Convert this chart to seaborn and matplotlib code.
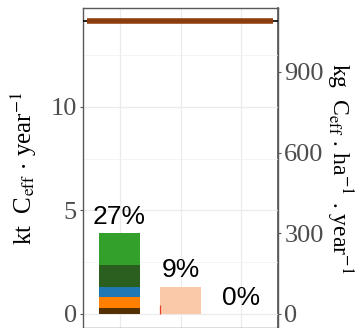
import matplotlib
matplotlib.use("Agg")
import matplotlib.pyplot as plt
import seaborn as sns
import numpy as np
import pandas as pd

# ---- data -------------------------------------------------------------
categories = ["A", "B", "C"]
segment_colors = ["#543005", "#FF7F00", "#1F78B4", "#2A5F1F", "#33A02C", "#F9C9A9"]
seg_dark_brown = [0.29, 0.0, 0.0]
seg_orange = [0.55, 0.0, 0.0]
seg_blue = [0.48, 0.0, 0.0]
seg_dark_green = [1.06, 0.0, 0.0]
seg_green = [1.53, 0.0, 0.0]
seg_peach = [0.0, 1.32, 0.0]
red_sliver = [0.0, 0.45, 0.0]
pct_labels = ["27%", "9%", "0%"]
reference_level = 14.15          # kt C_eff / year
kg_per_kt = 77.0                 # secondary axis conversion
left_ticks = [0, 5, 10]
right_ticks = [0, 300, 600, 900]

segments = [seg_dark_brown, seg_orange, seg_blue, seg_dark_green, seg_green, seg_peach]

# ---- style ------------------------------------------------------------
sns.set_theme(style="white")
plt.rcParams["font.family"] = ["Liberation Serif", "DejaVu Serif"]
plt.rcParams["mathtext.fontset"] = "stix"

fig = plt.figure(figsize=(3.58, 3.28), dpi=100)
ax = fig.add_axes([83 / 358, 0.0, 195 / 358, 1 - 8 / 328])

# cumulative tops, drawn from the tallest layer down so each stays visible
stack = np.cumsum(np.array(segments), axis=0)
bar_w = 0.68
for i in range(len(segments) - 1, -1, -1):
    df = pd.DataFrame({"cat": categories, "top": stack[i]})
    sns.barplot(data=df, x="cat", y="top", color=segment_colors[i],
                saturation=1, width=bar_w, linewidth=0, ax=ax, zorder=3)

totals = stack[-1]
xpos = np.arange(len(categories))

# thin red sliver at the left edge of the second bar
for x, h in zip(xpos, red_sliver):
    if h > 0:
        ax.vlines(x - bar_w / 2 + 0.01, 0, h, color="#E8402A", lw=0.9, zorder=4)

# reference level
ax.axhline(reference_level, color="black", lw=1.2, zorder=4)
ax.hlines(reference_level, -0.53, 2.52, color="#8B3D0E", lw=4.0, zorder=5)

# percentage labels
for x, t, lab in zip(xpos, totals, pct_labels):
    ax.text(x, t + 0.45, lab, ha="center", va="baseline", fontsize=19,
            family=["Liberation Sans", "DejaVu Sans"], color="black", zorder=6)

# axes
ax.set_xlim(-0.6, 2.6)
ax.set_ylim(-0.68, 14.78)
ax.set_yticks(left_ticks)
ax.set_yticks([2.5, 7.5, 12.5], minor=True)
ax.set_xticks(xpos)
ax.set_xticklabels([])
ax.set_xlabel("")
ax.grid(True, which="major", color="#EBEBEB", lw=0.9, zorder=0)
ax.grid(True, which="minor", axis="y", color="#F2F2F2", lw=0.6, zorder=0)
ax.set_axisbelow(True)
for s in ax.spines.values():
    s.set_visible(True)
    s.set_color("#5A5A5A")
    s.set_linewidth(1.0)
ax.tick_params(axis="y", which="major", length=2.5, width=0.8, color="#5A5A5A",
               labelsize=19, labelcolor="#4D4D4D", pad=2, left=True)
ax.tick_params(axis="y", which="minor", length=0)
ax.tick_params(axis="x", length=0)
ax.set_ylabel(r"kt  C$_{\mathrm{eff}}$ $\cdot$ year$^{-1}$", fontsize=18,
              color="black", labelpad=8)

sec = ax.secondary_yaxis("right", functions=(lambda v: v * kg_per_kt,
                                             lambda v: v / kg_per_kt))
sec.set_yticks(right_ticks)
sec.tick_params(axis="y", length=2.5, width=0.8, color="#5A5A5A",
                labelsize=19, labelcolor="#4D4D4D", pad=2)
sec.spines["right"].set_color("#5A5A5A")
sec.set_ylabel(r"kg  C$_{\mathrm{eff}}$ . ha$^{-1}$ . year$^{-1}$", fontsize=17,
               color="black", rotation=-90, labelpad=22)

fig.savefig("out.png", dpi=100)
